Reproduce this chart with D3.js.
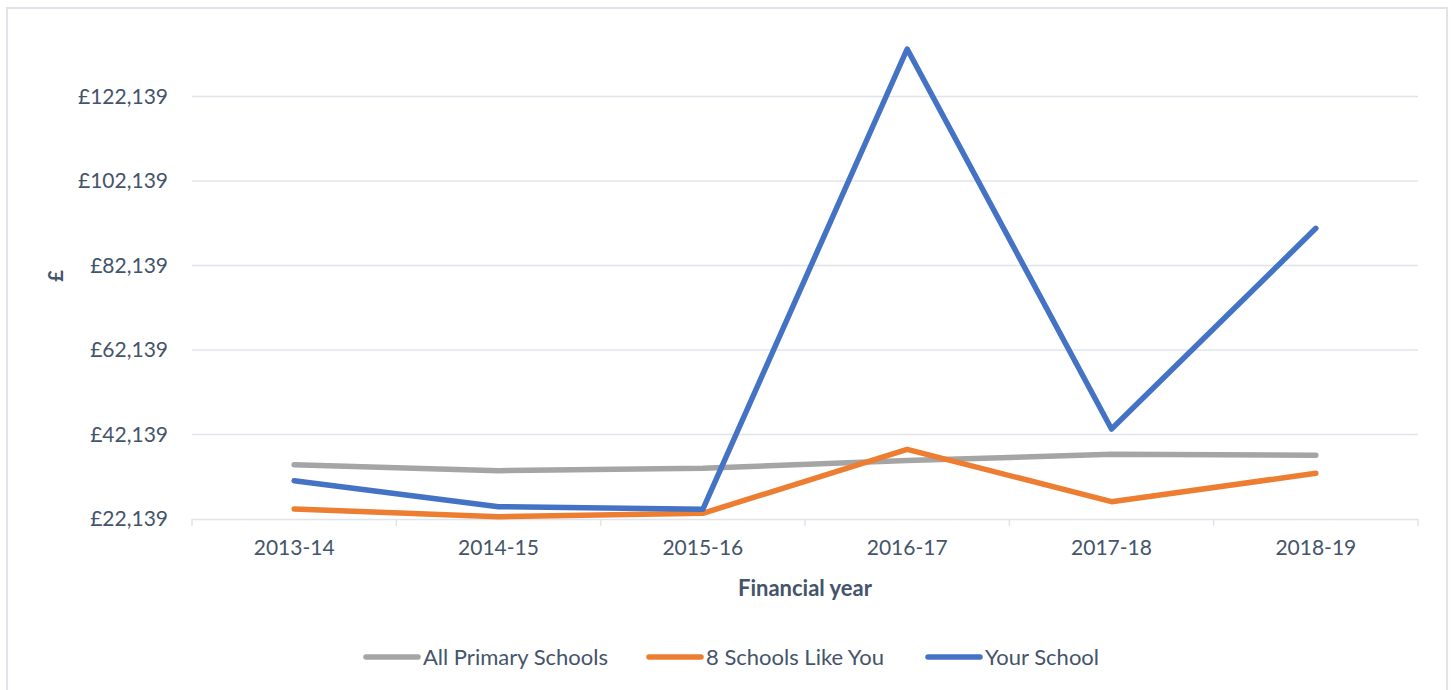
<!DOCTYPE html>
<html>
<head>
<meta charset="utf-8">
<script src="https://cdn.jsdelivr.net/npm/d3@7"></script>
<style>
  html, body { margin: 0; padding: 0; background: #fff; }
  svg { display: block; font-family: Lato, "Open Sans", sans-serif; }
</style>
</head>
<body>
<svg id="chart" width="1453" height="690"></svg>
<script>
const categories = ["2013-14", "2014-15", "2015-16", "2016-17", "2017-18", "2018-19"];
const allPrimary = [34991, 33571, 34139, 35985, 37453, 37216];
const schoolsLikeYou = [24506, 22683, 23488, 38636, 26234, 32956];
const yourSchool = [31204, 25050, 24435, 133382, 43441, 90943];
const yTicks = [22139, 42139, 62139, 82139, 102139, 122139];
const seriesNames = ["All Primary Schools", "8 Schools Like You", "Your School"];
const seriesColors = ["#a5a5a5", "#ed7d31", "#4472c4"];

const series = [allPrimary, schoolsLikeYou, yourSchool].map((vals, i) => ({
  name: seriesNames[i], color: seriesColors[i], values: vals
}));

const svg = d3.select("#chart");
const textColor = "#44546a";
const gridColor = "#e0e4ea";
const fontFam = "Lato, 'Open Sans', sans-serif";

// outer frame
svg.append("rect").attr("x", 7).attr("y", 8).attr("width", 1440).attr("height", 700)
  .attr("fill", "none").attr("stroke", gridColor).attr("stroke-width", 2);

const plot = { left: 192, right: 1418 };
const x = d3.scaleBand().domain(categories).range([plot.left, plot.right]);
const y = d3.scaleLinear().domain([22139, 122139]).range([519, 96.5]);

// gridlines
svg.append("g").selectAll("line").data(yTicks.slice(1)).join("line")
  .attr("x1", plot.left).attr("x2", plot.right)
  .attr("y1", d => y(d)).attr("y2", d => y(d))
  .attr("stroke", gridColor).attr("stroke-width", 1.5);

// y axis labels
const fmt = d => "£" + d3.format(",")(d);
const yAxis = svg.append("g").attr("transform", `translate(${plot.left},0)`)
  .call(d3.axisLeft(y).tickValues(yTicks).tickFormat(fmt).tickSize(0).tickPadding(24));
yAxis.select(".domain").remove();
yAxis.selectAll("text").attr("fill", textColor).style("font-size", "21px")
  .style("font-family", fontFam);

// x axis
const xAxis = svg.append("g").attr("transform", "translate(0,519)")
  .call(d3.axisBottom(x).tickSize(0).tickPadding(21));
xAxis.select(".domain").attr("stroke", gridColor).attr("stroke-width", 1.5);
xAxis.selectAll("text").attr("fill", textColor).style("font-size", "21px")
  .style("font-family", fontFam);
// category boundary ticks
const bounds = categories.map(c => x(c)).concat([plot.right]);
svg.append("g").selectAll("line").data(bounds).join("line")
  .attr("x1", d => d).attr("x2", d => d).attr("y1", 519).attr("y2", 526)
  .attr("stroke", gridColor).attr("stroke-width", 1.5);

// axis titles
svg.append("text").attr("x", (plot.left + plot.right) / 2).attr("y", 596)
  .attr("text-anchor", "middle").attr("fill", textColor)
  .style("font-size", "22px").style("font-weight", "bold").text("Financial year");
svg.append("text").attr("transform", "translate(63,276) rotate(-90)")
  .attr("text-anchor", "middle").attr("fill", textColor)
  .style("font-size", "20px").style("font-weight", "bold").text("£");

// lines
const line = d3.line().x((d, i) => x(categories[i]) + x.bandwidth() / 2).y(d => y(d));
svg.append("g").selectAll("path").data(series).join("path")
  .attr("d", d => line(d.values))
  .attr("fill", "none").attr("stroke", d => d.color).attr("stroke-width", 5.5)
  .attr("stroke-linecap", "round").attr("stroke-linejoin", "round");

// legend
const legendX = [366, 649, 928];
const lg = svg.append("g").selectAll("g").data(series).join("g")
  .attr("transform", (d, i) => `translate(${legendX[i]},657)`);
lg.append("line").attr("x1", 0).attr("x2", 52).attr("y1", 0).attr("y2", 0)
  .attr("stroke", d => d.color).attr("stroke-width", 5.5).attr("stroke-linecap", "round");
lg.append("text").attr("x", 57).attr("y", 8).attr("fill", textColor)
  .style("font-size", "22px").text(d => d.name);
</script>
</body>
</html>
